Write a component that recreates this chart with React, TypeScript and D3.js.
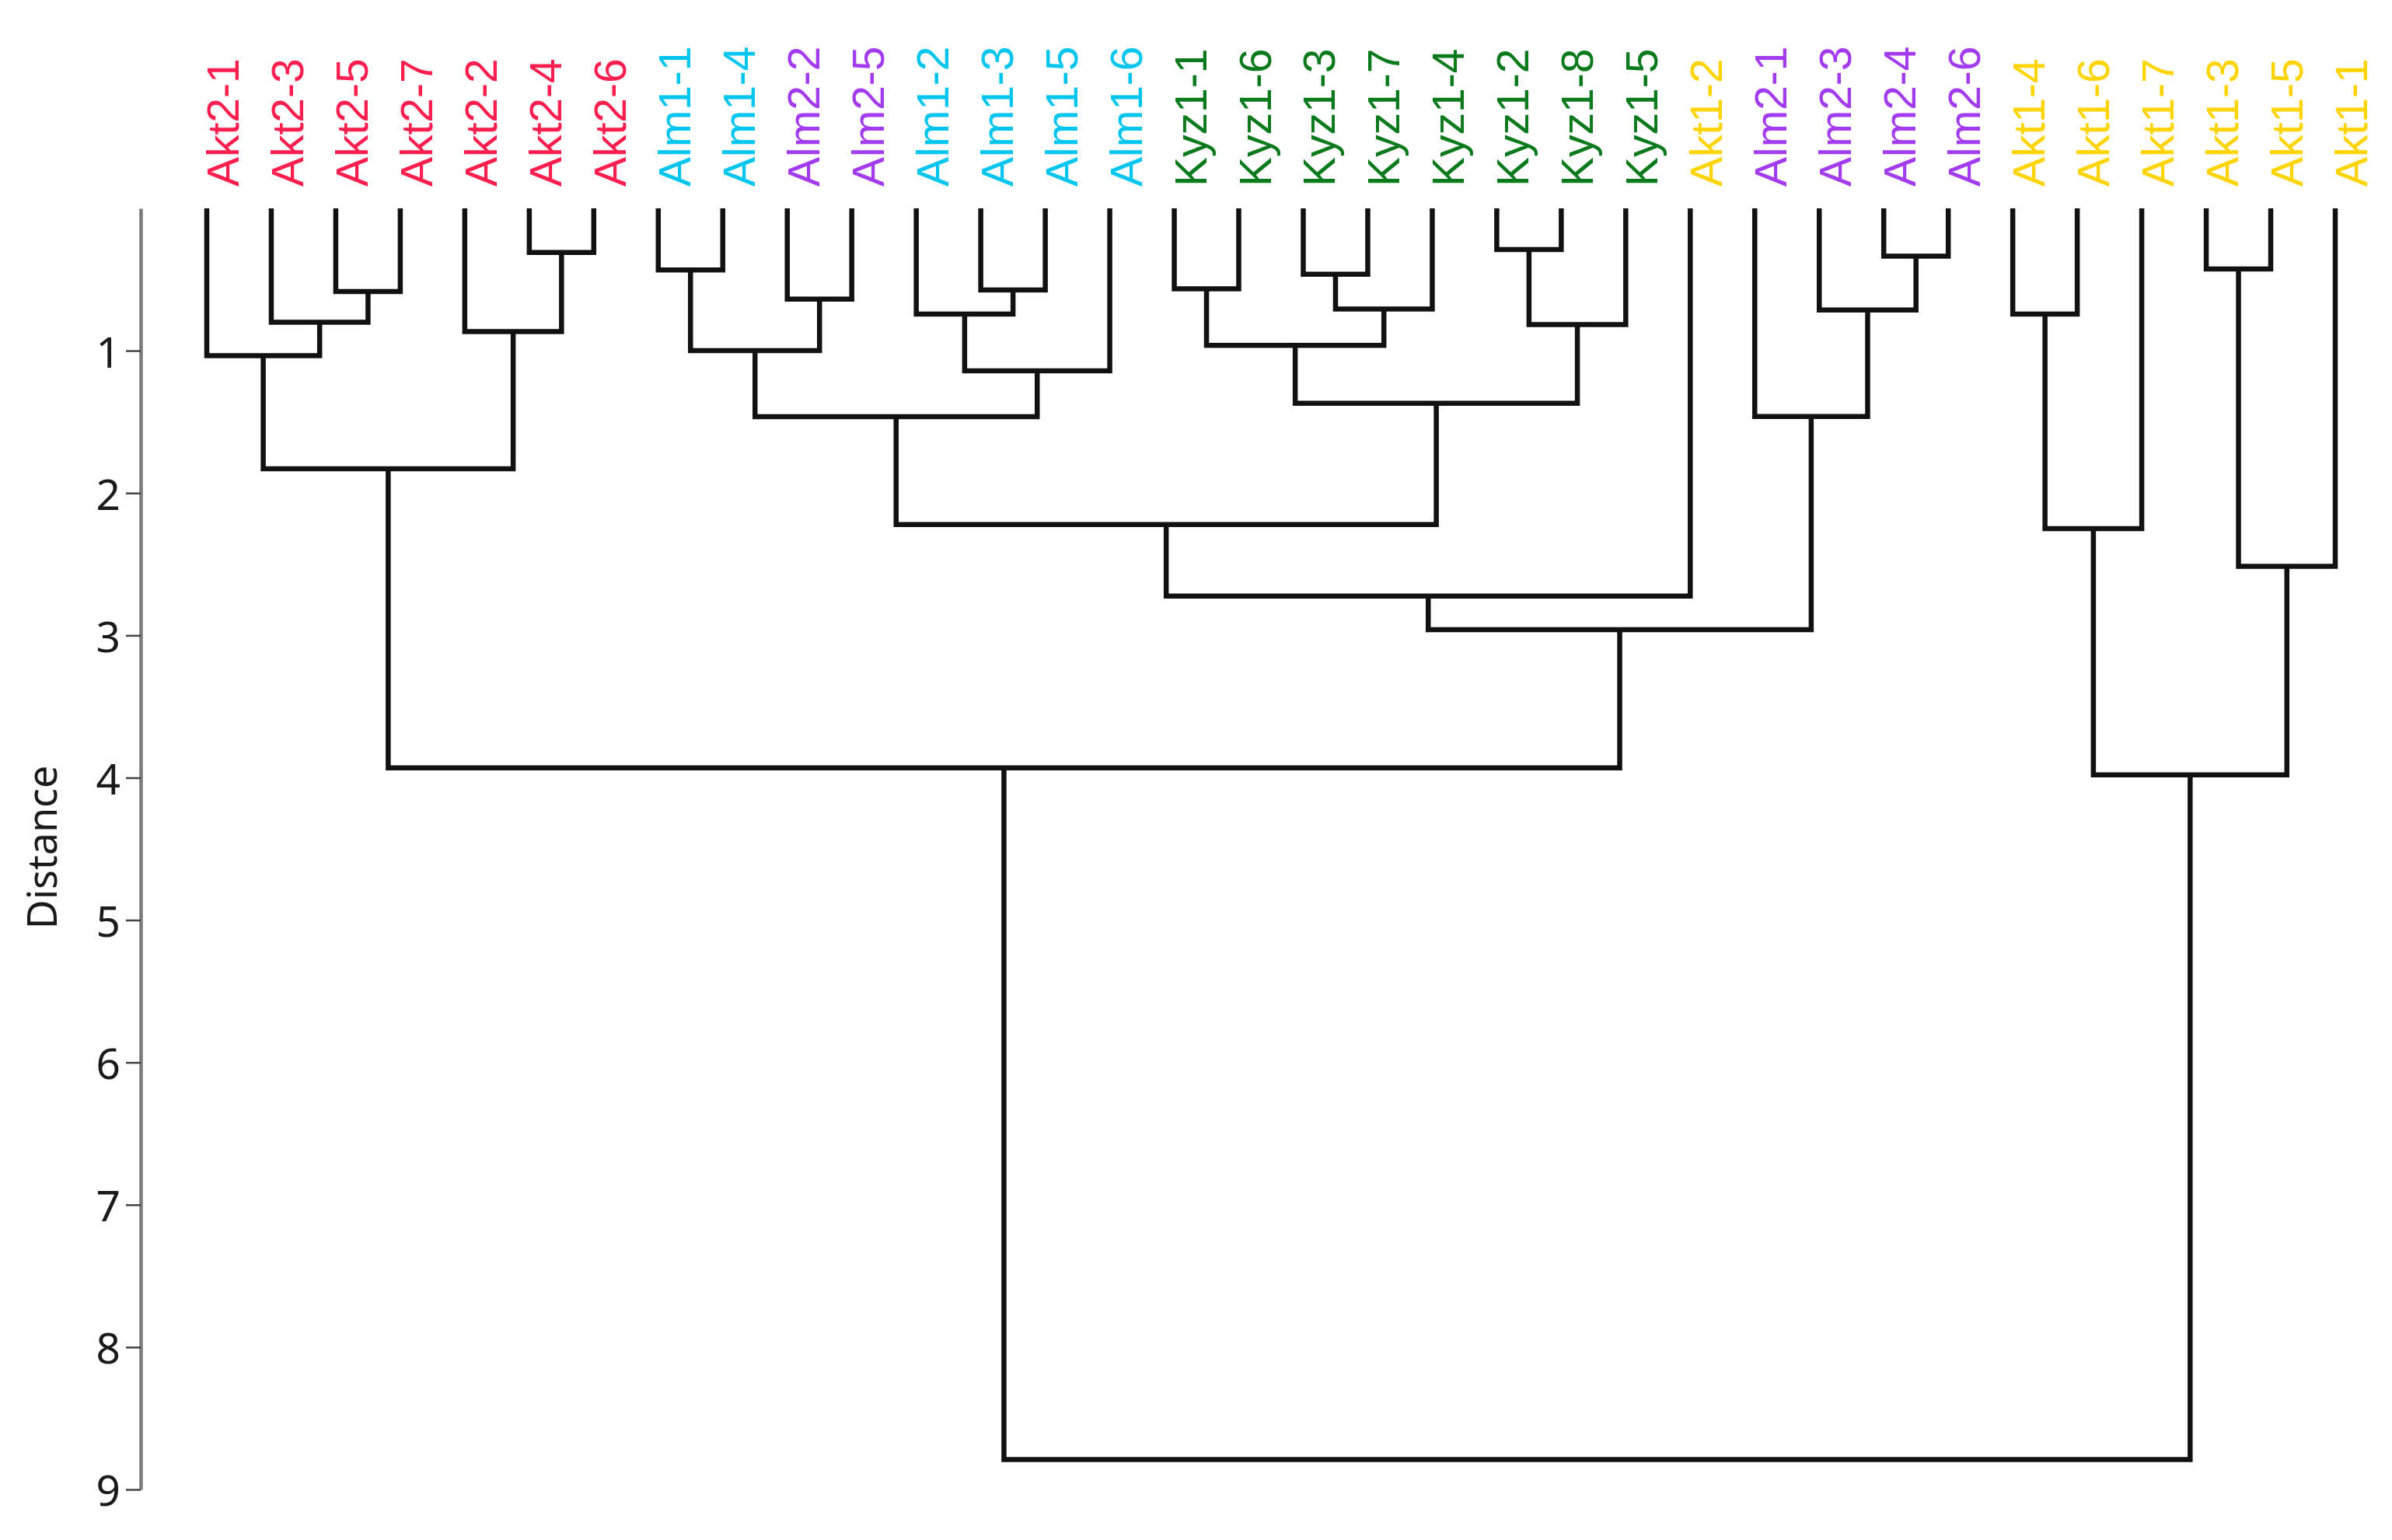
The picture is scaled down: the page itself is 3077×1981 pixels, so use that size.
import React, { useEffect, useRef } from 'react';
import * as d3 from 'd3';

// leaf order, left to right
const leaves = [
  'Akt2-1', 'Akt2-3', 'Akt2-5', 'Akt2-7', 'Akt2-2', 'Akt2-4', 'Akt2-6',
  'Alm1-1', 'Alm1-4', 'Alm2-2', 'Alm2-5', 'Alm1-2', 'Alm1-3', 'Alm1-5', 'Alm1-6',
  'Kyz1-1', 'Kyz1-6', 'Kyz1-3', 'Kyz1-7', 'Kyz1-4', 'Kyz1-2', 'Kyz1-8', 'Kyz1-5',
  'Akt1-2', 'Alm2-1', 'Alm2-3', 'Alm2-4', 'Alm2-6',
  'Akt1-4', 'Akt1-6', 'Akt1-7', 'Akt1-3', 'Akt1-5', 'Akt1-1',
];

const groupNames = ['Akt2', 'Alm1', 'Alm2', 'Kyz1', 'Akt1'];
const groupColors = ['#ff1f4f', '#00c5ef', '#a33cee', '#0b7a1c', '#ffd400'];

// linkage: [left, right, distance]; merge i gets the id "m" + i
const linkage: [string, string, number][] = [
  ['Akt2-5', 'Akt2-7', 0.585], // m0
  ['Akt2-3', 'm0', 0.8], // m1
  ['Akt2-1', 'm1', 1.035], // m2
  ['Akt2-4', 'Akt2-6', 0.31], // m3
  ['Akt2-2', 'm3', 0.865], // m4
  ['m2', 'm4', 1.83], // m5
  ['Alm1-1', 'Alm1-4', 0.433], // m6
  ['Alm2-2', 'Alm2-5', 0.638], // m7
  ['m6', 'm7', 1.0], // m8
  ['Alm1-3', 'Alm1-5', 0.573], // m9
  ['Alm1-2', 'm9', 0.743], // m10
  ['m10', 'Alm1-6', 1.141], // m11
  ['m8', 'm11', 1.463], // m12
  ['Kyz1-1', 'Kyz1-6', 0.565], // m13
  ['Kyz1-3', 'Kyz1-7', 0.463], // m14
  ['m14', 'Kyz1-4', 0.707], // m15
  ['m13', 'm15', 0.963], // m16
  ['Kyz1-2', 'Kyz1-8', 0.29], // m17
  ['m17', 'Kyz1-5', 0.816], // m18
  ['m16', 'm18', 1.37], // m19
  ['m12', 'm19', 2.222], // m20
  ['m20', 'Akt1-2', 2.724], // m21
  ['Alm2-4', 'Alm2-6', 0.336], // m22
  ['Alm2-3', 'm22', 0.714], // m23
  ['Alm2-1', 'm23', 1.462], // m24
  ['m21', 'm24', 2.96], // m25
  ['m5', 'm25', 3.93], // m26
  ['Akt1-4', 'Akt1-6', 0.743], // m27
  ['m27', 'Akt1-7', 2.25], // m28
  ['Akt1-3', 'Akt1-5', 0.426], // m29
  ['m29', 'Akt1-1', 2.515], // m30
  ['m28', 'm30', 3.98], // m31
  ['m26', 'm31', 8.79], // m32
];

const distTicks = [1, 2, 3, 4, 5, 6, 7, 8, 9];

const W = 3077;
const H = 1981;

const Dendrogram = () => {
  const ref = useRef<SVGSVGElement>(null);

  useEffect(() => {
    draw();
  });

  const draw = () => {
    const svg = d3.select(ref.current);
    svg.selectAll('*').remove();

    const x = d3.scalePoint<string>().domain(leaves).range([266, 3004]);
    const y = d3.scaleLinear().domain([0, 9]).range([268, 1916]);
    const color = d3.scaleOrdinal<string, string>().domain(groupNames).range(groupColors);

    // y axis
    const axis = svg
      .append('g')
      .attr('transform', 'translate(181,0)')
      .call(d3.axisLeft(y).tickValues(distTicks).tickSize(19).tickSizeOuter(0).tickPadding(7).tickFormat(d3.format('d')));
    axis.select('.domain').attr('stroke', '#7a7a7a').attr('stroke-width', 4.5);
    axis.selectAll('.tick line').attr('stroke', '#444').attr('stroke-width', 2.5);
    axis
      .selectAll('.tick text')
      .attr('fill', '#1a1a1a')
      .attr('dy', '0.38em')
      .style('font-family', '"Noto Sans", "Open Sans", sans-serif')
      .style('font-size', '55px');

    svg
      .append('text')
      .attr('transform', 'translate(73,1090) rotate(-90)')
      .attr('text-anchor', 'middle')
      .style('font-family', '"Noto Sans", "Open Sans", sans-serif')
      .style('font-size', '52px')
      .attr('fill', '#1a1a1a')
      .text('Distance');

    // build the tree links from the linkage list
    const pos = new Map<string, { x: number; h: number }>();
    leaves.forEach((l) => pos.set(l, { x: x(l) || 0, h: 0 }));
    const links: string[] = [];
    linkage.forEach(([a, b, h], i) => {
      const pa = pos.get(a)!;
      const pb = pos.get(b)!;
      const p = d3.path();
      p.moveTo(pa.x, y(pa.h));
      p.lineTo(pa.x, y(h));
      p.lineTo(pb.x, y(h));
      p.lineTo(pb.x, y(pb.h));
      links.push(p.toString());
      pos.set('m' + i, { x: (pa.x + pb.x) / 2, h });
    });

    svg
      .append('g')
      .selectAll('path')
      .data(links)
      .enter()
      .append('path')
      .attr('d', (d) => d)
      .attr('fill', 'none')
      .attr('stroke', '#111')
      .attr('stroke-width', 6.5)
      .attr('stroke-linejoin', 'miter')
      .attr('stroke-linecap', 'butt');

    // leaf labels
    svg
      .append('g')
      .selectAll('text')
      .data(leaves)
      .enter()
      .append('text')
      .attr('transform', (d) => `translate(${(x(d) || 0) + 41},240) rotate(-90)`)
      .attr('text-anchor', 'start')
      .style('font-family', '"Liberation Sans", Arial, sans-serif')
      .style('font-size', '57px')
      .attr('fill', (d) => color(d.slice(0, 4)))
      .text((d) => d);
  };

  return <svg ref={ref} width={W} height={H} style={{ position: 'absolute', left: 0, top: 0, background: '#fff' }} />;
};

export default function App() {
  return <Dendrogram />;
}
